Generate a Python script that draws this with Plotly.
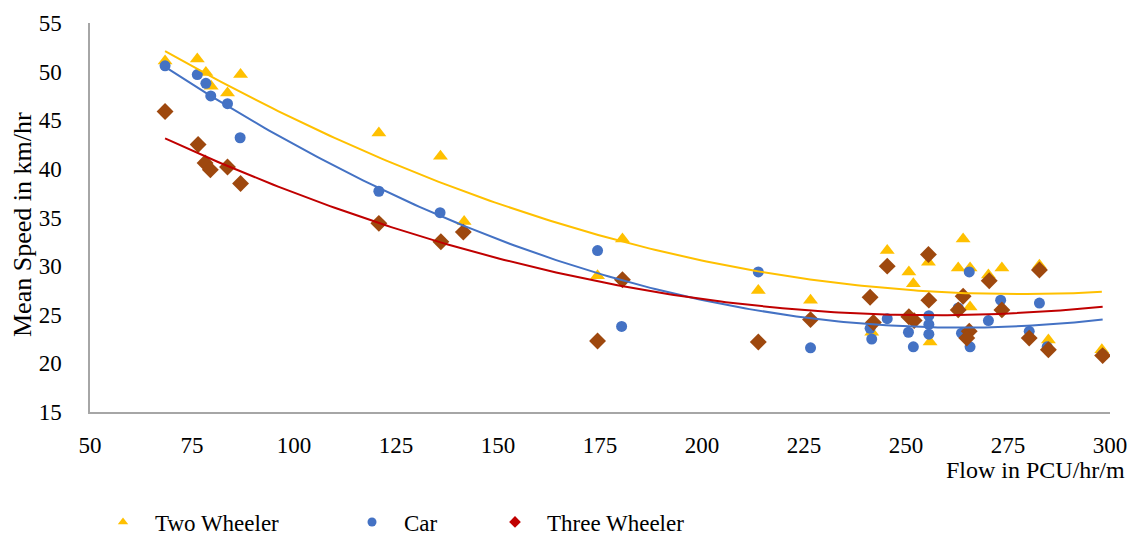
import numpy as np
import plotly.graph_objects as go

# ---- data ----
two_x = [68.4, 76.3, 78.4, 79.7, 83.7, 86.9, 120.8, 135.9, 141.7, 174.4, 180.5, 213.8, 226.6,
         241.6, 245.4, 250.7, 251.8, 255.5, 255.9, 264.0, 262.8, 265.7, 265.7, 270.2, 273.5,
         282.7, 284.9, 298.0]
two_y = [51.1, 51.3, 49.9, 48.5, 47.8, 49.7, 43.7, 41.3, 34.6, 29.0, 32.8, 27.5, 26.5,
         23.2, 31.6, 29.4, 28.2, 30.4, 22.2, 32.8, 29.8, 29.8, 25.8, 29.1, 29.8,
         30.1, 22.4, 21.4]

car_x = [68.4, 76.3, 78.4, 79.6, 83.7, 86.8, 120.8, 135.8, 174.4, 180.3, 213.8, 226.6,
         241.2, 241.6, 245.4, 250.6, 251.8, 255.6, 255.6, 255.6, 262.8, 263.6, 265.5, 265.7,
         270.2, 273.2, 280.2, 282.7, 284.6, 298.2]
car_y = [50.6, 49.7, 48.8, 47.5, 46.7, 43.2, 37.7, 35.5, 31.6, 23.8, 29.4, 21.6,
         23.6, 22.5, 24.6, 23.2, 21.7, 24.9, 24.0, 23.0, 25.7, 23.1, 29.4, 21.7,
         24.4, 26.5, 23.3, 26.2, 21.7, 20.9]

three_x = [68.4, 76.5, 78.2, 79.5, 83.7, 86.9, 120.8, 136.0, 141.5, 174.4, 180.5, 213.8, 226.6,
           241.2, 242.0, 245.4, 250.7, 252.0, 255.5, 255.6, 264.0, 262.8, 265.5, 264.9,
           270.4, 273.5, 282.7, 280.2, 284.9, 298.2]
three_y = [45.9, 42.5, 40.6, 39.9, 40.2, 38.5, 34.4, 32.5, 33.5, 22.3, 28.6, 22.2, 24.5,
           26.8, 24.2, 30.0, 24.8, 24.4, 31.2, 26.5, 26.9, 25.5, 23.3, 22.6,
           28.5, 25.5, 29.6, 22.6, 21.4, 20.8]

series_names = ["Two Wheeler", "Car", "Three Wheeler"]
x_ticks = [50, 75, 100, 125, 150, 175, 200, 225, 250, 275, 300]
y_ticks = [15, 20, 25, 30, 35, 40, 45, 50, 55]

FONT = "Liberation Serif, Times New Roman, serif"
marker_cols = ["#FFC000", "#4472C4", "#9E480E"]
line_cols = ["#FFC000", "#4472C4", "#C00000"]
legend_cols = ["#FFC000", "#4472C4", "#C00000"]
symbols = ["triangle-up", "circle", "diamond"]
sizes = [13, 11, 13]

fig = go.Figure()
data = [(two_x, two_y), (car_x, car_y), (three_x, three_y)]

for i, (xs, ys) in enumerate(data):
    fig.add_trace(go.Scatter(x=xs, y=ys, mode="markers", name=series_names[i],
                             marker=dict(symbol=symbols[i], size=sizes[i], color=marker_cols[i]),
                             showlegend=False))

# polynomial (order 2) trendlines
for i, (xs, ys) in enumerate(data):
    c = np.polyfit(xs, ys, 2)
    xx = np.linspace(min(xs), max(xs), 200)
    fig.add_trace(go.Scatter(x=xx, y=np.polyval(c, xx), mode="lines",
                             line=dict(color=line_cols[i], width=2),
                             showlegend=False, hoverinfo="skip"))

# legend entries (three separate legends for exact spacing)
legend_names = ["legend", "legend2", "legend3"]
for i in range(3):
    fig.add_trace(go.Scatter(x=[None], y=[None], mode="markers", name=series_names[i],
                             marker=dict(symbol=symbols[i], size=9, color=legend_cols[i]),
                             legend=legend_names[i], showlegend=True))

W0, W1, T0, B0 = 90, 1110, 23, 412
def px_x(p):
    return (p - W0) / (W1 - W0)
def px_y(p):
    return (B0 - p) / (B0 - T0)

leg_common = dict(font=dict(family=FONT, size=23, color="#000000"), bgcolor="rgba(0,0,0,0)",
                  orientation="h", yanchor="middle", xanchor="left", itemwidth=54)
fig.update_layout(
    legend=dict(x=px_x(91), y=px_y(522), **leg_common),
    legend2=dict(x=px_x(340), y=px_y(522), **leg_common),
    legend3=dict(x=px_x(483), y=px_y(522), **leg_common),
)

fig.update_layout(
    width=1132, height=535,
    margin=dict(l=W0, r=1132 - W1, t=T0, b=535 - B0, autoexpand=False),
    plot_bgcolor="white", paper_bgcolor="white",
    font=dict(family=FONT, size=23, color="#000000"),
    xaxis=dict(range=[50, 300], tickvals=x_ticks, ticktext=[str(v) for v in x_ticks],
               showgrid=False, zeroline=False, showline=True, linecolor="#A6A6A6", linewidth=1.5,
               ticks="", ticklabelstandoff=12, automargin=False,
               tickfont=dict(family=FONT, size=23)),
    yaxis=dict(range=[15, 55], tickvals=y_ticks, ticktext=[str(v) for v in y_ticks],
               showgrid=False, zeroline=False, showline=True, linecolor="#A6A6A6", linewidth=1.5,
               ticks="", ticklabelstandoff=22, automargin=False,
               tickfont=dict(family=FONT, size=23)),
    annotations=[
        dict(text="Mean Speed in km/hr", textangle=-90, xref="paper", yref="paper",
             x=px_x(22), y=px_y(225), xanchor="center", yanchor="middle", showarrow=False,
             font=dict(family=FONT, size=26, color="#000000")),
        dict(text="Flow in PCU/hr/m", xref="paper", yref="paper",
             x=px_x(1127), y=px_y(470), xanchor="right", yanchor="middle", showarrow=False,
             font=dict(family=FONT, size=24, color="#000000")),
    ],
)

fig.write_html("out.html", config={"displayModeBar": False},
               post_script="document.body.style.margin='0px';document.body.style.overflow='hidden';")
